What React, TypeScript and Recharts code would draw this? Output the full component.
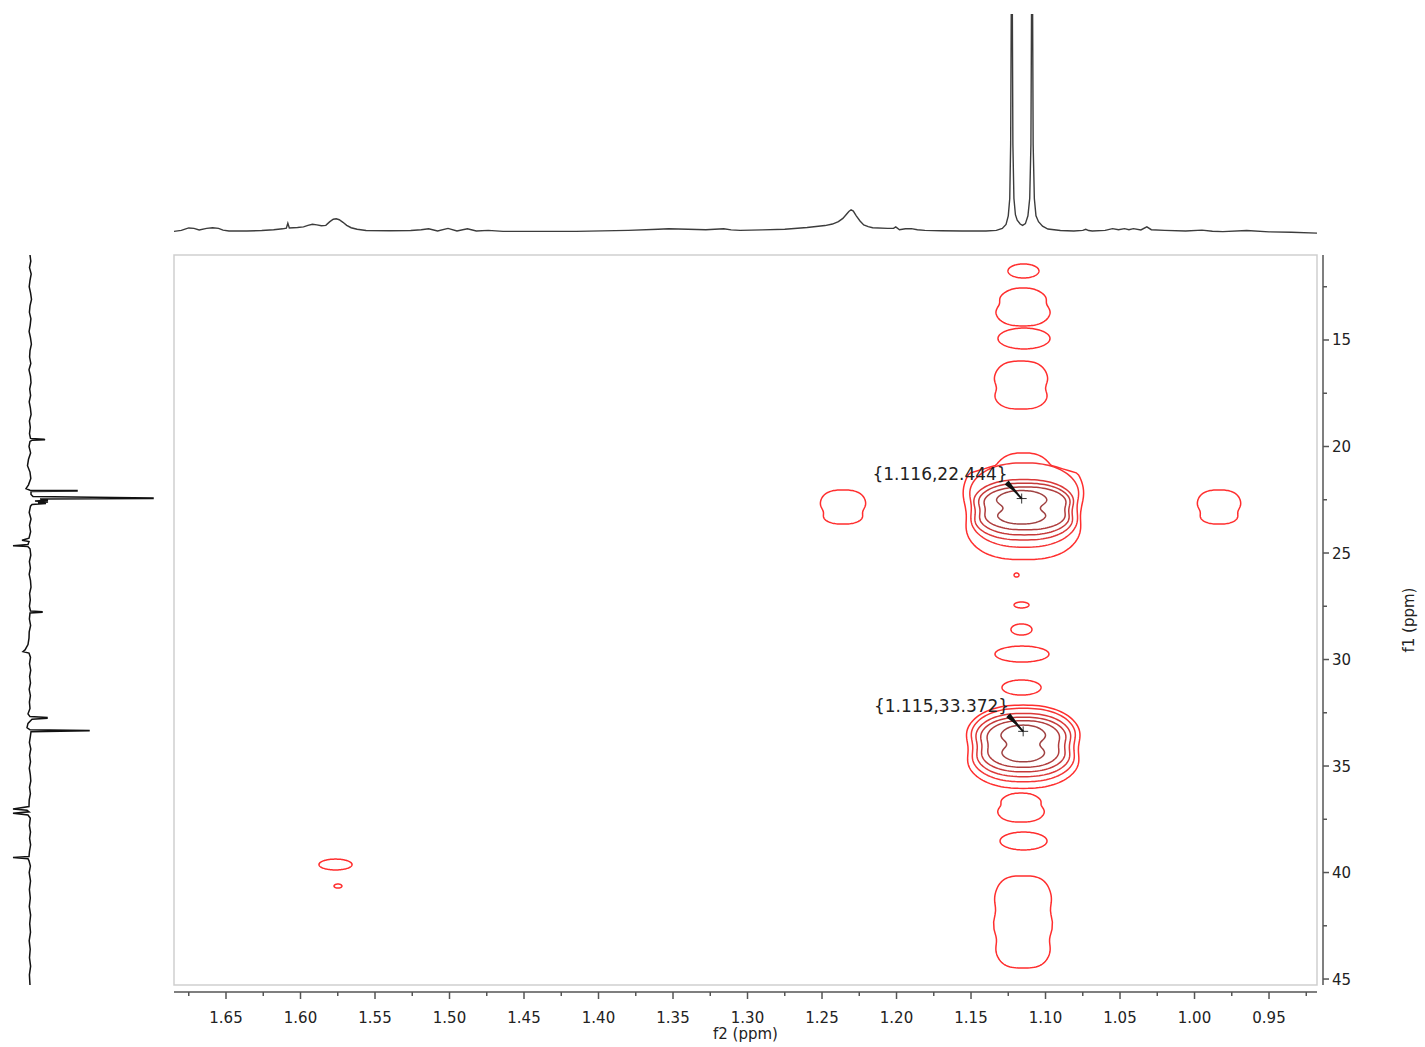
import React from 'react';
import { LineChart, Line, ScatterChart, Scatter, XAxis, YAxis, ReferenceArea, ReferenceDot, Label } from 'recharts';

// ---- axis domains (ppm) ----
const F2_LEFT = 1.6849;
const F2_RIGHT = 0.9178;
const F1_TOP = 11.01;
const F1_BOTTOM = 45.28;

// ---- tick values ----
const f2MajorTicks = [1.65, 1.6, 1.55, 1.5, 1.45, 1.4, 1.35, 1.3, 1.25, 1.2, 1.15, 1.1, 1.05, 1.0, 0.95];
const f2MinorTicks = [1.675, 1.625, 1.575, 1.525, 1.475, 1.425, 1.375, 1.325, 1.275, 1.225, 1.175, 1.125, 1.075, 1.025, 0.975, 0.925];
const f1MajorTicks = [15, 20, 25, 30, 35, 40, 45];
const f1MinorTicks = [12.5, 17.5, 22.5, 27.5, 32.5, 37.5, 42.5];

// ---- top projection (1H, f2) ----
const topProjection = [
  { ppm: 1.685, i: -0.2 }, { ppm: 1.68, i: 0.3 }, { ppm: 1.677, i: 1.0 }, { ppm: 1.675, i: 1.4 },
  { ppm: 1.6715, i: 1.2 }, { ppm: 1.668, i: 0.5 }, { ppm: 1.663, i: 1.2 }, { ppm: 1.659, i: 1.5 },
  { ppm: 1.655, i: 1.2 }, { ppm: 1.652, i: 0.4 }, { ppm: 1.648, i: 0 }, { ppm: 1.636, i: 0 },
  { ppm: 1.626, i: 0.2 }, { ppm: 1.618, i: 0.6 }, { ppm: 1.612, i: 1.0 }, { ppm: 1.6095, i: 1.3 },
  { ppm: 1.6085, i: 3.6 }, { ppm: 1.6075, i: 1.4 }, { ppm: 1.602, i: 1.6 }, { ppm: 1.598, i: 1.9 },
  { ppm: 1.595, i: 2.6 }, { ppm: 1.592, i: 3.1 }, { ppm: 1.589, i: 2.8 }, { ppm: 1.586, i: 2.4 },
  { ppm: 1.583, i: 2.6 }, { ppm: 1.5805, i: 4.2 }, { ppm: 1.578, i: 5.4 }, { ppm: 1.576, i: 5.6 },
  { ppm: 1.574, i: 5.2 }, { ppm: 1.5715, i: 4.0 }, { ppm: 1.569, i: 2.6 }, { ppm: 1.566, i: 1.5 },
  { ppm: 1.562, i: 0.8 }, { ppm: 1.556, i: 0.2 }, { ppm: 1.54, i: 0.1 }, { ppm: 1.526, i: 0.2 },
  { ppm: 1.519, i: 0.6 }, { ppm: 1.514, i: 1.0 }, { ppm: 1.508, i: 0 }, { ppm: 1.501, i: 1.2 },
  { ppm: 1.495, i: 0 }, { ppm: 1.488, i: 1.0 }, { ppm: 1.482, i: 0 }, { ppm: 1.474, i: 0.3 },
  { ppm: 1.464, i: -0.2 }, { ppm: 1.44, i: -0.2 }, { ppm: 1.415, i: -0.2 }, { ppm: 1.38, i: 0.3 },
  { ppm: 1.36, i: 0.8 }, { ppm: 1.353, i: 1.0 }, { ppm: 1.34, i: 0.8 }, { ppm: 1.328, i: 0.6 },
  { ppm: 1.316, i: 1.0 }, { ppm: 1.311, i: 0.5 }, { ppm: 1.305, i: 0.3 }, { ppm: 1.29, i: 0.5 },
  { ppm: 1.275, i: 0.8 }, { ppm: 1.26, i: 1.6 }, { ppm: 1.248, i: 2.5 }, { ppm: 1.243, i: 3.2 },
  { ppm: 1.239, i: 4.3 }, { ppm: 1.236, i: 5.8 }, { ppm: 1.234, i: 7.4 }, { ppm: 1.232, i: 9.0 },
  { ppm: 1.2305, i: 9.8 }, { ppm: 1.229, i: 9.2 }, { ppm: 1.227, i: 7.0 }, { ppm: 1.2245, i: 4.6 },
  { ppm: 1.222, i: 2.8 }, { ppm: 1.219, i: 2.0 }, { ppm: 1.216, i: 1.5 }, { ppm: 1.206, i: 1.2 },
  { ppm: 1.202, i: 1.2 }, { ppm: 1.2005, i: 1.9 }, { ppm: 1.198, i: 0.6 }, { ppm: 1.194, i: 1.0 },
  { ppm: 1.19, i: 1.1 }, { ppm: 1.186, i: 0.6 }, { ppm: 1.181, i: 0.3 }, { ppm: 1.17, i: 0.1 },
  { ppm: 1.156, i: 0 }, { ppm: 1.14, i: 0 }, { ppm: 1.133, i: 0.3 }, { ppm: 1.129, i: 1.2 },
  { ppm: 1.1265, i: 3.0 }, { ppm: 1.125, i: 7 }, { ppm: 1.124, i: 15 }, { ppm: 1.1234, i: 40 },
  { ppm: 1.1226, i: 160 }, { ppm: 1.1219, i: 40 }, { ppm: 1.1212, i: 15 }, { ppm: 1.1202, i: 7.5 },
  { ppm: 1.119, i: 5 }, { ppm: 1.117, i: 3.2 }, { ppm: 1.1154, i: 2.6 }, { ppm: 1.1135, i: 3.4 },
  { ppm: 1.1118, i: 7 }, { ppm: 1.1106, i: 15 }, { ppm: 1.1098, i: 40 }, { ppm: 1.109, i: 160 },
  { ppm: 1.1083, i: 40 }, { ppm: 1.1075, i: 15 }, { ppm: 1.1064, i: 7 }, { ppm: 1.1047, i: 4.3 },
  { ppm: 1.102, i: 2.2 }, { ppm: 1.0984, i: 0.9 }, { ppm: 1.09, i: 0.2 }, { ppm: 1.081, i: 0 },
  { ppm: 1.075, i: 0.3 }, { ppm: 1.073, i: 0.8 }, { ppm: 1.071, i: 0.2 }, { ppm: 1.0686, i: 0 },
  { ppm: 1.06, i: 0.3 }, { ppm: 1.055, i: 1.1 }, { ppm: 1.051, i: 0.6 }, { ppm: 1.047, i: 1.1 },
  { ppm: 1.044, i: 0.6 }, { ppm: 1.041, i: 1.1 }, { ppm: 1.036, i: 0.5 }, { ppm: 1.032, i: 1.9 },
  { ppm: 1.029, i: 0.6 }, { ppm: 1.02, i: 0.3 }, { ppm: 1.006, i: 0 }, { ppm: 0.995, i: 0.4 },
  { ppm: 0.988, i: -0.1 }, { ppm: 0.981, i: -0.3 }, { ppm: 0.965, i: 0.2 }, { ppm: 0.95, i: -0.4 },
  { ppm: 0.935, i: -0.6 }, { ppm: 0.9178, i: -1 },
];

// ---- left projection (13C, f1) ----
const leftProjection = [
  { ppm: 11.01, v: 0 }, { ppm: 11.3, v: 0.8 }, { ppm: 11.6, v: -0.5 }, { ppm: 11.9, v: 1.2 },
  { ppm: 12.2, v: 0 }, { ppm: 12.5, v: -0.8 }, { ppm: 12.8, v: 0.6 }, { ppm: 13.1, v: 1.5 },
  { ppm: 13.4, v: 0 }, { ppm: 13.7, v: -0.6 }, { ppm: 14.0, v: 0.9 }, { ppm: 14.3, v: 0.2 },
  { ppm: 14.6, v: -0.9 }, { ppm: 14.9, v: 0.5 }, { ppm: 15.2, v: 1.4 }, { ppm: 15.5, v: 0 },
  { ppm: 15.8, v: -0.4 }, { ppm: 16.1, v: 0.8 }, { ppm: 16.4, v: -1 }, { ppm: 16.7, v: 0.5 },
  { ppm: 17.0, v: 1.0 }, { ppm: 17.3, v: -0.3 }, { ppm: 17.6, v: 0.6 }, { ppm: 17.9, v: -0.8 },
  { ppm: 18.2, v: 0.4 }, { ppm: 18.5, v: 1.1 }, { ppm: 18.8, v: -0.6 }, { ppm: 19.1, v: 0.3 },
  { ppm: 19.4, v: -0.5 }, { ppm: 19.62, v: 0.5 }, { ppm: 19.66, v: 14 }, { ppm: 19.68, v: 15 },
  { ppm: 19.71, v: 2 }, { ppm: 19.76, v: 0 }, { ppm: 20.0, v: -1 }, { ppm: 20.3, v: 0.6 },
  { ppm: 20.6, v: -1.5 }, { ppm: 20.9, v: -2.5 }, { ppm: 21.2, v: 0 }, { ppm: 21.5, v: 0.8 },
  { ppm: 21.8, v: -1.5 }, { ppm: 21.98, v: -4 }, { ppm: 22.05, v: 0 }, { ppm: 22.07, v: 47 },
  { ppm: 22.09, v: 47 }, { ppm: 22.11, v: 1 }, { ppm: 22.25, v: 1 }, { ppm: 22.35, v: 3 },
  { ppm: 22.42, v: 123 }, { ppm: 22.445, v: 123 }, { ppm: 22.47, v: 10 }, { ppm: 22.52, v: 18 },
  { ppm: 22.56, v: 5 }, { ppm: 22.6, v: 18 }, { ppm: 22.64, v: 8 }, { ppm: 22.68, v: 16 },
  { ppm: 22.72, v: 2 }, { ppm: 22.8, v: 0.5 }, { ppm: 23.1, v: -0.8 }, { ppm: 23.4, v: 1 },
  { ppm: 23.7, v: -0.5 }, { ppm: 24.0, v: 0.6 }, { ppm: 24.3, v: -1 }, { ppm: 24.4, v: -8 },
  { ppm: 24.46, v: -1 }, { ppm: 24.6, v: -2 }, { ppm: 24.66, v: -17 }, { ppm: 24.7, v: -2 },
  { ppm: 24.8, v: 0 }, { ppm: 25.1, v: 0.8 }, { ppm: 25.4, v: -0.6 }, { ppm: 25.7, v: 0.4 },
  { ppm: 26.0, v: -0.8 }, { ppm: 26.3, v: 0.5 }, { ppm: 26.6, v: 1 }, { ppm: 26.9, v: -0.4 },
  { ppm: 27.2, v: 0.3 }, { ppm: 27.5, v: -0.6 }, { ppm: 27.72, v: 0.5 }, { ppm: 27.75, v: 12 },
  { ppm: 27.78, v: 12 }, { ppm: 27.82, v: 0 }, { ppm: 28.1, v: -0.6 }, { ppm: 28.4, v: 0.6 },
  { ppm: 28.7, v: -0.8 }, { ppm: 29.0, v: -1 }, { ppm: 29.3, v: -2 }, { ppm: 29.55, v: -5 },
  { ppm: 29.63, v: -7 }, { ppm: 29.7, v: -1 }, { ppm: 29.9, v: 0.5 }, { ppm: 30.2, v: -0.5 },
  { ppm: 30.5, v: 0.7 }, { ppm: 30.8, v: -0.4 }, { ppm: 31.1, v: 0.5 }, { ppm: 31.4, v: -0.8 },
  { ppm: 31.7, v: 0.4 }, { ppm: 32.0, v: -0.6 }, { ppm: 32.3, v: 0 }, { ppm: 32.55, v: -2 },
  { ppm: 32.68, v: 0 }, { ppm: 32.72, v: 17 }, { ppm: 32.76, v: 17 }, { ppm: 32.8, v: 2 },
  { ppm: 33.0, v: -2 }, { ppm: 33.2, v: -3 }, { ppm: 33.3, v: 0 }, { ppm: 33.33, v: 59 },
  { ppm: 33.35, v: 59 }, { ppm: 33.39, v: 1 }, { ppm: 33.6, v: 0.4 }, { ppm: 33.9, v: -0.6 },
  { ppm: 34.2, v: 0.8 }, { ppm: 34.5, v: -0.4 }, { ppm: 34.8, v: 0.5 }, { ppm: 35.1, v: -0.7 },
  { ppm: 35.4, v: 0.3 }, { ppm: 35.7, v: 0.8 }, { ppm: 36.0, v: -0.5 }, { ppm: 36.3, v: 0.4 },
  { ppm: 36.6, v: -0.8 }, { ppm: 36.9, v: -1 }, { ppm: 37.02, v: -17 }, { ppm: 37.08, v: -3 },
  { ppm: 37.15, v: -1 }, { ppm: 37.22, v: -17 }, { ppm: 37.3, v: -2 }, { ppm: 37.45, v: 0.3 },
  { ppm: 37.8, v: -0.6 }, { ppm: 38.1, v: 0.5 }, { ppm: 38.4, v: -0.4 }, { ppm: 38.7, v: 0.6 },
  { ppm: 39.0, v: -0.5 }, { ppm: 39.25, v: -1 }, { ppm: 39.3, v: -17 }, { ppm: 39.35, v: -2 },
  { ppm: 39.45, v: -1 }, { ppm: 39.7, v: 0.4 }, { ppm: 40.0, v: -0.8 }, { ppm: 40.4, v: 0.5 },
  { ppm: 40.8, v: -0.6 }, { ppm: 41.2, v: 0.3 }, { ppm: 41.6, v: -0.7 }, { ppm: 42.0, v: 0.6 },
  { ppm: 42.4, v: -0.3 }, { ppm: 42.8, v: 0.5 }, { ppm: 43.2, v: -0.8 }, { ppm: 43.6, v: 0.2 },
  { ppm: 44.0, v: -0.5 }, { ppm: 44.4, v: 0.6 }, { ppm: 44.8, v: -0.6 }, { ppm: 45.28, v: 0 },
];

// ---- 2D contours: bounds in ppm (f2 from/to, f1 from/to), contour level, outline form ----
const columnUpper = [
  { f2: [1.1252, 1.1044], f1: [11.43, 12.09], level: 1, form: 'oval' },
  { f2: [1.1339, 1.0963], f1: [12.56, 14.34], level: 1, form: 'pear' },
  { f2: [1.1319, 1.097], f1: [14.44, 15.42], level: 1, form: 'oval' },
  { f2: [1.1352, 1.0977], f1: [15.99, 18.24], level: 1, form: 'pearLow' },
];
const peak22 = [
  { f2: [1.1562, 1.0735], f1: [20.3, 25.31], level: 1, form: 'hat' },
  { f2: [1.1529, 1.0757], f1: [20.77, 24.73], level: 2, form: 'ring' },
  { f2: [1.15, 1.0793], f1: [21.55, 24.39], level: 3, form: 'ring' },
  { f2: [1.1466, 1.0818], f1: [21.72, 24.15], level: 4, form: 'ring' },
  { f2: [1.1428, 1.0847], f1: [21.9, 23.91], level: 5, form: 'ring' },
  { f2: [1.135, 1.097], f1: [22.07, 23.64], level: 6, form: 'bowtie' },
];
const sidePeaks = [
  { f2: [1.2513, 1.2205], f1: [22.04, 23.64], level: 1, form: 'blob' },
  { f2: [0.9983, 0.9688], f1: [22.04, 23.64], level: 1, form: 'blob' },
];
const columnMiddle = [
  { f2: [1.1211, 1.1178], f1: [25.94, 26.13], level: 1, form: 'oval' },
  { f2: [1.1211, 1.1111], f1: [27.3, 27.58], level: 1, form: 'oval' },
  { f2: [1.1232, 1.1091], f1: [28.33, 28.85], level: 1, form: 'oval' },
  { f2: [1.1339, 1.0977], f1: [29.37, 30.12], level: 1, form: 'oval' },
  { f2: [1.1292, 1.103], f1: [30.96, 31.67], level: 1, form: 'oval' },
];
const peak33 = [
  { f2: [1.1552, 1.0747], f1: [32.14, 36.05], level: 1, form: 'ring' },
  { f2: [1.1518, 1.078], f1: [32.29, 35.74], level: 2, form: 'ring' },
  { f2: [1.1485, 1.0813], f1: [32.53, 35.5], level: 3, form: 'ring' },
  { f2: [1.1451, 1.0847], f1: [32.71, 35.27], level: 4, form: 'ring' },
  { f2: [1.1406, 1.0892], f1: [32.87, 35.06], level: 5, form: 'ring' },
  { f2: [1.1318, 1.0981], f1: [33.08, 34.8], level: 6, form: 'bowtie' },
];
const columnLower = [
  { f2: [1.1326, 1.1003], f1: [36.27, 37.63], level: 1, form: 'pear' },
  { f2: [1.1305, 1.099], f1: [38.1, 38.94], level: 1, form: 'oval' },
  { f2: [1.1352, 1.095], f1: [40.16, 44.48], level: 1, form: 'column' },
];
const farPeak = [
  { f2: [1.5876, 1.5654], f1: [39.37, 39.88], level: 1, form: 'oval' },
  { f2: [1.5775, 1.5722], f1: [40.54, 40.73], level: 1, form: 'oval' },
];
const annotations = [
  { f2: 1.116, f1: 22.444, text: '{1.116,22.444}' },
  { f2: 1.115, f1: 33.372, text: '{1.115,33.372}' },
];

const allContours = [...columnUpper, ...peak22, ...sidePeaks, ...columnMiddle, ...peak33, ...columnLower, ...farPeak];

// ---- styling ----
const LEVEL_COLORS = ['#ff2e2e', '#f53535', '#dc3838', '#c53a3a', '#b03d3d', '#9f4141'];
type Form = { n: number; waists: number[][]; taper: number; cap?: number };
const FORMS: Record<string, Form> = {
  oval: { n: 2, waists: [], taper: 0 },
  pear: { n: 2.5, waists: [[-0.15, 0.13, 0.3]], taper: 0.18 },
  pearLow: { n: 2.8, waists: [[0.12, 0.12, 0.28]], taper: 0.08 },
  blob: { n: 2.6, waists: [[0.3, 0.13, 0.3]], taper: 0 },
  ring: { n: 2.35, waists: [[0.05, 0.08, 0.35]], taper: 0 },
  hat: { n: 2.6, waists: [[0.15, 0.07, 0.3]], taper: 0, cap: 0.42 },
  bowtie: { n: 2.3, waists: [[0.05, 0.34, 0.35]], taper: 0 },
  column: { n: 3.2, waists: [[-0.25, 0.08, 0.2], [0.38, 0.1, 0.2]], taper: 0 },
};
const AXIS_COLOR = '#555';
const TEXT_COLOR = '#222';
const FONT = "'DejaVu Sans', Verdana, sans-serif";

function outlinePath(x: number, y: number, w: number, h: number, formName: string) {
  const p = FORMS[formName];
  const cx = x + w / 2, cy = y + h / 2, rx = w / 2, ry = h / 2;
  const N = 120;
  const pts: string[] = [];
  for (let k = 0; k < N; k++) {
    const t = (k / N) * Math.PI * 2;
    const c = Math.cos(t), s = Math.sin(t);
    const ex = Math.sign(c) * Math.pow(Math.abs(c), 2 / p.n);
    const ey = Math.sign(s) * Math.pow(Math.abs(s), 2 / p.n);
    let f = 1;
    for (const [wp, amt, sig] of p.waists) f -= amt * Math.exp(-Math.pow((ey - wp) / sig, 2));
    f *= 1 - p.taper * Math.max(0, -ey);
    if (p.cap) f *= 1 - p.cap * Math.min(1, Math.max(0, (-ey - 0.62) / 0.15));
    pts.push(`${(cx + rx * ex * f).toFixed(2)},${(cy + ry * ey).toFixed(2)}`);
  }
  return 'M' + pts.join('L') + 'Z';
}

const isIn = (arr: number[], v: number) => arr.some((a) => Math.abs(a - v) < 1e-6);
const f2Ticks = [...f2MajorTicks, ...f2MinorTicks].sort((a, b) => b - a);
const f1Ticks = [...f1MajorTicks, ...f1MinorTicks].sort((a, b) => a - b);

const XTick = (props: any) => {
  const { x, y, payload } = props;
  const major = isIn(f2MajorTicks, payload.value);
  return (
    <g>
      <line x1={x} x2={x} y1={y} y2={y + (major ? 7 : 4)} stroke={AXIS_COLOR} strokeWidth={1.5} />
      {major && (
        <text x={x} y={y + 31} textAnchor="middle" fontSize={15} fill={TEXT_COLOR} fontFamily={FONT}>
          {payload.value.toFixed(2)}
        </text>
      )}
    </g>
  );
};

const YTick = (props: any) => {
  const { x, y, payload } = props;
  const major = isIn(f1MajorTicks, payload.value);
  return (
    <g>
      <line x1={x} x2={x + (major ? 6 : 4)} y1={y} y2={y} stroke={AXIS_COLOR} strokeWidth={1.5} />
      {major && (
        <text x={x + 9} y={y + 5.5} textAnchor="start" fontSize={15} fill={TEXT_COLOR} fontFamily={FONT}>
          {String(payload.value)}
        </text>
      )}
    </g>
  );
};

const F1Title = (props: any) => {
  const vb = props.viewBox || {};
  const cx = vb.x + vb.width - 9;
  const cy = vb.y + vb.height / 2;
  return (
    <text x={cx} y={cy} transform={`rotate(-90 ${cx} ${cy})`} textAnchor="middle" dominantBaseline="central"
      fontSize={15} fill={TEXT_COLOR} fontFamily={FONT}>
      f1 (ppm)
    </text>
  );
};

const noShape = () => <g />;

const layer: React.CSSProperties = { position: 'absolute', left: 0, top: 0 };

export default function App() {
  return (
    <div style={{ position: 'absolute', left: 0, top: 0, width: 1425, height: 1047, background: '#fff', fontFamily: FONT }}>
      {/* top projection */}
      <div style={layer}>
        <LineChart width={1425} height={250} data={topProjection} margin={{ top: 14, right: 108, bottom: 12.5, left: 174 }}>
          <XAxis type="number" dataKey="ppm" domain={[F2_RIGHT, F2_LEFT]} reversed hide allowDataOverflow height={0} />
          <YAxis type="number" domain={[-3, 100]} hide allowDataOverflow width={0} />
          <Line type="linear" dataKey="i" stroke="#3c3c3c" strokeWidth={1.4} dot={false} isAnimationActive={false} />
        </LineChart>
      </div>

      {/* left projection */}
      <div style={layer}>
        <ScatterChart width={175} height={1047} margin={{ top: 255, right: 5, bottom: 62, left: 0 }}>
          <XAxis type="number" dataKey="v" domain={[-30, 140]} hide allowDataOverflow height={0} />
          <YAxis type="number" dataKey="ppm" domain={[F1_TOP, F1_BOTTOM]} reversed hide allowDataOverflow width={0} />
          <Scatter data={leftProjection} line={{ stroke: '#111', strokeWidth: 1.5 }} lineJointType="linear"
            shape={noShape} isAnimationActive={false} />
        </ScatterChart>
      </div>

      {/* 2D contour map */}
      <div style={layer}>
        <ScatterChart width={1425} height={1047} margin={{ top: 255, right: 108, bottom: 62, left: 174 }}>
          <XAxis type="number" dataKey="x" domain={[F2_RIGHT, F2_LEFT]} reversed hide allowDataOverflow height={0} />
          <YAxis type="number" dataKey="y" domain={[F1_TOP, F1_BOTTOM]} reversed hide allowDataOverflow width={0} />
          <ReferenceArea x1={F2_LEFT} x2={F2_RIGHT} y1={F1_TOP} y2={F1_BOTTOM} ifOverflow="visible"
            fill="none" stroke="#cfcfcf" strokeWidth={1.5} />
          {allContours.map((c, idx) => (
            <ReferenceArea key={idx} x1={c.f2[0]} x2={c.f2[1]} y1={c.f1[0]} y2={c.f1[1]} ifOverflow="visible"
              shape={(p: any) => (
                <path d={outlinePath(p.x, p.y, p.width, p.height, c.form)} fill="none"
                  stroke={LEVEL_COLORS[c.level - 1]} strokeWidth={1.5} />
              )} />
          ))}
          {annotations.map((a, idx) => (
            <ReferenceDot key={'a' + idx} x={a.f2} y={a.f1} ifOverflow="visible"
              shape={(p: any) => (
                <g>
                  <line x1={p.cx - 5} x2={p.cx + 5} y1={p.cy} y2={p.cy} stroke="#333" strokeWidth={1} />
                  <line x1={p.cx} x2={p.cx} y1={p.cy - 5} y2={p.cy + 5} stroke="#333" strokeWidth={1} />
                  <polygon points={`${p.cx - 17},${p.cy - 14} ${p.cx - 13},${p.cy - 18} ${p.cx - 2},${p.cy - 3}`} fill="#111" />
                  <line x1={p.cx - 15} y1={p.cy - 16} x2={p.cx} y2={p.cy} stroke="#111" strokeWidth={2} />
                  <text x={p.cx - 14} y={p.cy - 19} textAnchor="end" fontSize={17} fill={TEXT_COLOR} fontFamily={FONT}>
                    {a.text}
                  </text>
                </g>
              )} />
          ))}
        </ScatterChart>
      </div>

      {/* f2 axis */}
      <div style={layer}>
        <ScatterChart width={1425} height={1047} margin={{ top: 900, right: 108, bottom: 0, left: 174 }}>
          <XAxis type="number" dataKey="x" domain={[F2_RIGHT, F2_LEFT]} reversed allowDataOverflow height={55}
            ticks={f2Ticks} interval={0} tick={<XTick />} tickLine={false} tickSize={0} tickMargin={0}
            axisLine={{ stroke: AXIS_COLOR, strokeWidth: 1.5 }}>
            <Label value="f2 (ppm)" position="insideBottom" offset={8} fontSize={15} fill={TEXT_COLOR} />
          </XAxis>
          <YAxis type="number" dataKey="y" domain={[0, 1]} hide width={0} />
          <Scatter data={[]} isAnimationActive={false} shape={noShape} />
        </ScatterChart>
      </div>

      {/* f1 axis */}
      <div style={layer}>
        <ScatterChart width={1425} height={1047} margin={{ top: 255, right: 7, bottom: 62, left: 1200 }}>
          <XAxis type="number" dataKey="x" domain={[0, 1]} hide height={0} />
          <YAxis type="number" dataKey="y" orientation="right" domain={[F1_TOP, F1_BOTTOM]} reversed allowDataOverflow
            width={95} ticks={f1Ticks} interval={0} tick={<YTick />} tickLine={false} tickSize={0} tickMargin={0}
            axisLine={{ stroke: AXIS_COLOR, strokeWidth: 1.5 }}>
            <Label content={<F1Title />} />
          </YAxis>
          <Scatter data={[]} isAnimationActive={false} shape={noShape} />
        </ScatterChart>
      </div>
    </div>
  );
}
